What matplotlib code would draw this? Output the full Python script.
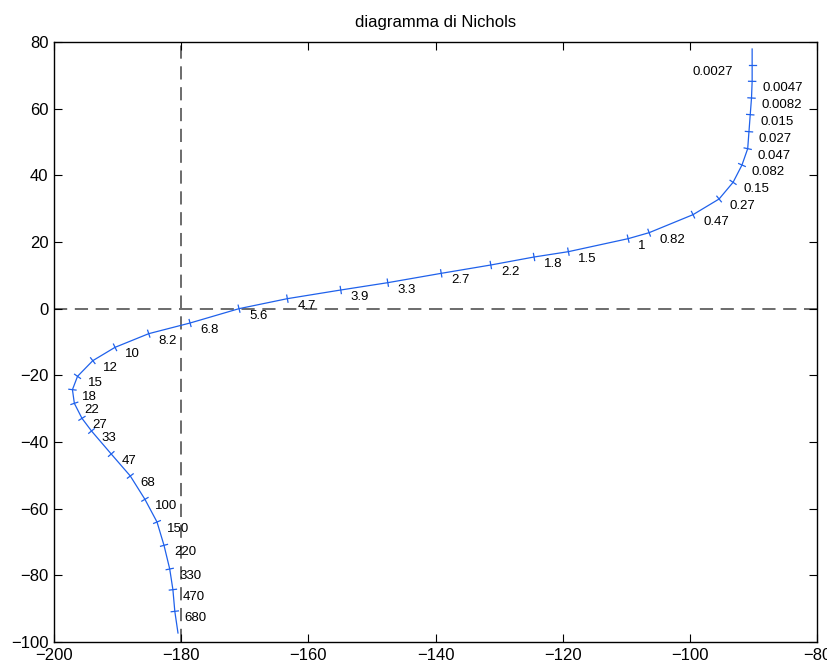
import numpy as np
import matplotlib.pyplot as plt

plt.rcParams['font.family'] = ['Liberation Sans', 'DejaVu Sans']
plt.rcParams['lines.scale_dashes'] = False

# labelled frequencies along the locus
freq_labels = ["0.0027", "0.0047", "0.0082", "0.015", "0.027", "0.047", "0.082",
               "0.15", "0.27", "0.47", "0.82", "1", "1.5", "1.8", "2.2", "2.7",
               "3.3", "3.9", "4.7", "5.6", "6.8", "8.2", "10", "12", "15", "18",
               "22", "27", "33", "47", "68", "100", "150", "220", "330", "470", "680"]

# phase (deg) and magnitude (dB) at each labelled frequency
phase_at = [-90.2, -90.2, -90.3, -90.5, -90.7, -90.9, -91.8,
            -93.2, -95.4, -99.5, -106.4, -109.7, -119.1, -124.5, -131.3, -139.1,
            -147.5, -154.9, -163.3, -170.9, -178.6, -185.1, -190.4, -193.9, -196.3, -197.1,
            -196.8, -195.6, -194.1, -191.0, -188.0, -185.7, -183.8, -182.7, -181.8, -181.3, -181.0]
gain_at = [73.0, 68.2, 63.2, 58.2, 53.1, 48.0, 43.1,
           37.9, 32.9, 28.2, 22.8, 21.0, 17.1, 15.5, 13.1, 10.6,
           7.8, 5.6, 3.0, 0.0, -4.3, -7.5, -11.6, -15.6, -20.3, -24.3,
           -28.4, -32.9, -36.7, -43.6, -50.2, -57.2, -64.0, -71.0, -78.1, -84.3, -90.8]

# first and last point of the computed locus
phase_start, gain_start = -90.2, 77.9
phase_end, gain_end = -180.5, -97.3

curve_phase = [phase_start] + phase_at + [phase_end]
curve_gain = [gain_start] + gain_at + [gain_end]

blue = (0.12, 0.38, 0.92)

fig = plt.figure(figsize=(8.27, 6.66), dpi=100)
ax = fig.add_axes([54 / 827, 24 / 666, 763 / 827, 600 / 666])
ax.set_xlim(-200, -80)
ax.set_ylim(-100, 80)
ax.set_xticks(np.arange(-200, -79, 20))
ax.set_yticks(np.arange(-100, 81, 20))
ax.tick_params(direction='in', top=True, right=True, length=5.5, width=0.8,
               labelsize=12, pad=4)
for s in ax.spines.values():
    s.set_linewidth(1.0)

# critical point guides
ax.axvline(-180, color='0.42', lw=1.4, dashes=(9.5, 5.5), zorder=1)
ax.axhline(0, color='0.42', lw=1.4, dashes=(9.5, 5.5), zorder=1)

ax.plot(curve_phase, curve_gain, color=blue, lw=0.9, zorder=3)

# small marks normal to the locus at each labelled frequency
fig.canvas.draw()
disp = ax.transData.transform(np.column_stack([curve_phase, curve_gain]))
inv = ax.transData.inverted()
for i in range(len(phase_at)):
    p = disp[i + 1]
    t = disp[i + 2] - disp[i]
    t = t / np.hypot(*t)
    n = np.array([-t[1], t[0]]) * 3.6
    seg = inv.transform(np.vstack([p - n, p + n]))
    ax.plot(seg[:, 0], seg[:, 1], color=blue, lw=0.9, zorder=3)

for lab, ph, g in zip(freq_labels, phase_at, gain_at):
    if lab == "0.0027":
        ax.annotate(lab, (ph, g), xytext=(-14, -5), textcoords='offset points',
                    ha='right', va='center', fontsize=9.5)
    else:
        ax.annotate(lab, (ph, g), xytext=(7.2, -5), textcoords='offset points',
                    ha='left', va='center', fontsize=9.5)

ax.set_title("diagramma di Nichols", fontsize=12, pad=10.5)

fig.savefig("out.png", dpi=100)
